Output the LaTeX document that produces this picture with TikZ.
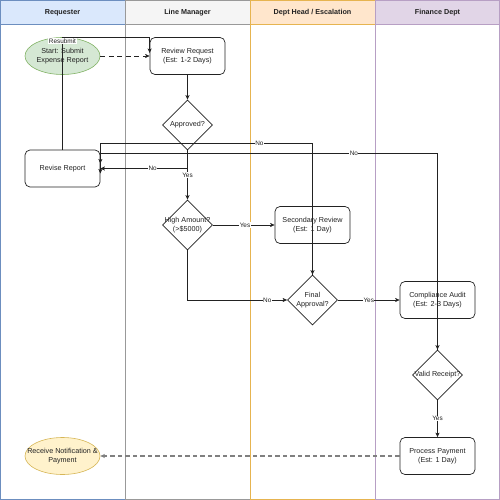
\documentclass[tikz,border=0pt]{standalone}
\usepackage{fontspec}
\setmainfont{Liberation Sans}
\usetikzlibrary{shapes.geometric,arrows.meta,calc}
\definecolor{rqF}{HTML}{DAE8FC}\definecolor{rqS}{HTML}{6C8EBF}
\definecolor{lmF}{HTML}{F5F5F5}\definecolor{lmS}{HTML}{999999}
\definecolor{dhF}{HTML}{FFE6CC}\definecolor{dhS}{HTML}{E6B450}
\definecolor{fdF}{HTML}{E1D5E7}\definecolor{fdS}{HTML}{B79FC4}
\definecolor{stF}{HTML}{D5E8D4}\definecolor{stS}{HTML}{82B366}
\definecolor{enF}{HTML}{FFF2CC}\definecolor{enS}{HTML}{D6B656}
\definecolor{ink}{HTML}{222222}
\begin{document}
\begin{tikzpicture}[x=1pt,y=-1pt,
  hdr/.style={font=\fontsize{7.2}{8}\selectfont\bfseries, text=ink},
  txt/.style={font=\fontsize{7.2}{8.7}\selectfont, text=ink, align=center},
  box/.style={draw=ink, fill=white, rounded corners=5pt, minimum width=75pt, minimum height=37pt, inner sep=0pt, line width=0.7pt, txt},
  dia/.style={diamond, draw=ink, fill=white, minimum width=50pt, minimum height=50pt, inner sep=0pt, line width=0.7pt},
  ell/.style={ellipse, minimum width=75pt, minimum height=37pt, inner sep=0pt, line width=0.6pt},
  arr/.style={draw=ink, line width=0.7pt, -{Stealth[length=4.5pt,width=4pt,inset=1pt]}},
  elab/.style={font=\fontsize{6.4}{7}\selectfont, text=ink, fill=white, inner sep=0.5pt}
]
\useasboundingbox (0,0) rectangle (500,500);
% lanes
\filldraw[fill=rqF, draw=rqS, line width=1pt] (0.5,0.5) rectangle (125,25);
\draw[rqS, line width=1pt] (0.5,0.5) rectangle (125,499.5);
\filldraw[fill=lmF, draw=lmS, line width=1pt] (125,0.5) rectangle (250,25);
\draw[lmS, line width=1pt] (125,0.5) rectangle (250,499.5);
\filldraw[fill=dhF, draw=dhS, line width=1pt] (250,0.5) rectangle (375,25);
\draw[dhS, line width=1pt] (250,0.5) rectangle (375,499.5);
\filldraw[fill=fdF, draw=fdS, line width=1pt] (375,0.5) rectangle (499.5,25);
\draw[fdS, line width=1pt] (375,0.5) rectangle (499.5,499.5);
\node[hdr] (h1) at (62.5,12.5) {Requester};
\node[hdr] (h2) at (187.5,12.5) {Line Manager};
\node[hdr] (h3) at (312.5,12.5) {Dept Head / Escalation};
\node[hdr] (h4) at (437.5,12.5) {Finance Dept};
% nodes
\node[ell, draw=stS, fill=stF, label={[txt,name=stT,align=center]center:Start: Submit\\Expense Report}] (st) at (62.5,56) {};
\node[box] (rr) at (187.5,56) {Review Request\\(Est: 1-2 Days)};
\node[dia, label={[txt,name=apT]center:Approved?}] (ap) at (187.5,125) {};
\node[box] (rv) at (62.5,168.5) {Revise Report};
\node[dia, label={[txt,name=haT,align=center]center:High Amount?\\(>\$5000)}] (ha) at (187.5,225) {};
\node[box] (sr) at (312.5,225) {Secondary Review\\(Est: 1 Day)};
\node[dia, label={[txt,name=faT,align=center]center:Final\\Approval?}] (fa) at (312.5,300) {};
\node[box] (ca) at (437.5,300) {Compliance Audit\\(Est: 2-3 Days)};
\node[dia, label={[txt,name=vaT]center:Valid Receipt?}] (va) at (437.5,375) {};
\node[box] (pp) at (437.5,456) {Process Payment\\(Est: 1 Day)};
\node[ell, draw=enS, fill=enF, label={[txt,name=rnT,align=center]center:Receive Notification \&\\Payment}] (rn) at (62.5,456) {};
% edges
\draw[arr, dash pattern=on 5pt off 3.5pt] (st.east) -- (rr.west);
\draw[arr] (rr.south) -- (ap.north);
\draw[arr] (ap.south) |- node[elab,pos=0.70]{No} (rv.east);
\draw[arr] (ap.south) -- node[elab]{Yes} (ha.north);
\draw[arr] (ha.east) -- node[elab,pos=0.52]{Yes} (sr.west);
\draw[arr] (ha.south) |- node[elab,pos=0.90]{No} (fa.west);
\draw[arr] (sr.south) -- (fa.north);
\draw[arr] (fa.north) |- node[elab,pos=0.625]{No} ($(rv.east)+(0,-25)$) -- ($(rv.east)+(0,-5)$);
\draw[arr] (va.north) |- node[elab,pos=0.624]{No} ($(rv.east)+(0,-15)$) -- ($(rv.east)+(0,5)$);
\draw[arr] (fa.east) -- node[elab]{Yes} (ca.west);
\draw[arr] (ca.south) -- (va.north);
\draw[arr] (va.south) -- node[elab]{Yes} (pp.north);
\draw[arr, draw=gray, line width=1.4pt, dash pattern=on 4.5pt off 3pt] (pp.west) -- (rn.east);
\draw[arr] (rv.north) |- node[elab,pos=0.482]{Resubmit} (rr.north west) -- ($(rr.west)+(0,-3)$);
\end{tikzpicture}
\end{document}
